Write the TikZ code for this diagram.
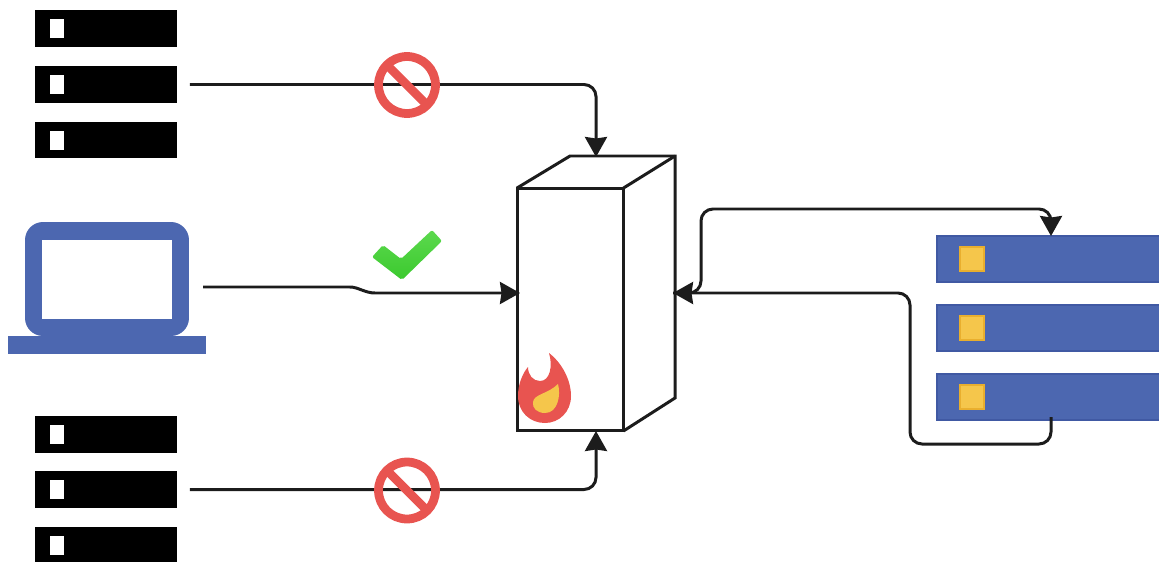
\documentclass[tikz,border=0pt]{standalone}
\usetikzlibrary{arrows.meta}
\definecolor{blueA}{HTML}{4C67B0}
\definecolor{blueB}{HTML}{4059A3}
\definecolor{yellowA}{HTML}{F5C64B}
\definecolor{yellowB}{HTML}{E9AF2E}
\definecolor{redA}{HTML}{E85450}
\definecolor{inkA}{HTML}{1C1C1C}
\definecolor{greenA}{HTML}{5CD94E}
\definecolor{greenB}{HTML}{3BC92E}
\tikzset{
	rackbox/.style={fill=black, minimum width=2.84cm, minimum height=0.74cm, inner sep=0, outer sep=0},
	rackslot/.style={fill=white, minimum width=0.3cm, minimum height=0.38cm, inner sep=0, outer sep=0},
	barbox/.style={fill=blueA, draw=blueB, line width=1pt, minimum width=5.4cm, minimum height=0.92cm, inner sep=0, outer sep=0},
	barchip/.style={fill=yellowA, draw=yellowB, line width=1.2pt, minimum size=0.48cm, inner sep=0, outer sep=0},
	wall/.style={draw=inkA, line width=1.7pt, line join=miter},
	link/.style={draw=inkA, line width=1.7pt, rounded corners=0.24cm, -{Stealth[length=0.4cm, width=0.44cm, inset=0.03cm]}},
	nosign/.style={circle, draw=redA, line width=5pt, minimum size=1.14cm, inner sep=0, outer sep=0}
}
\begin{document}
\begin{tikzpicture}[x=0.02cm, y=-0.02cm]
	\clip[use as bounding box] (0,0) rectangle (1159,561);

	\node (r1) [rackbox] at (106,28.5) {};
	\node (r2) [rackbox] at (106,84.5) {};
	\node (r3) [rackbox] at (106,140) {};
	\node (r4) [rackbox] at (106,434) {};
	\node (r5) [rackbox] at (106,489.5) {};
	\node (r6) [rackbox] at (106,545.5) {};
	\node (s1) [rackslot] at (57,28.5) {};
	\node (s2) [rackslot] at (57,84.5) {};
	\node (s3) [rackslot] at (57,140) {};
	\node (s4) [rackslot] at (57,434) {};
	\node (s5) [rackslot] at (57,489.5) {};
	\node (s6) [rackslot] at (57,545.5) {};

	\node (lap) [fill=blueA, rounded corners=0.36cm, minimum width=3.28cm, minimum height=2.28cm, inner sep=0, outer sep=0] at (107,279) {};
	\node (lapscreen) [fill=white, minimum width=2.6cm, minimum height=1.58cm, inner sep=0, outer sep=0] at (107,279.5) {};
	\node (lapbase) [fill=blueA, minimum width=3.96cm, minimum height=0.36cm, inner sep=0, outer sep=0] at (107,345) {};

	\node (fw) [wall, minimum width=2.13cm, minimum height=4.86cm, inner sep=0, outer sep=0] at (570.25,309.5) {};
	\draw [wall] (fw.north west) -- (570,156) -- (675,156) -- (675,398) -- (fw.south east);
	\draw [wall] (fw.north east) -- (675,156);

	\node (b1) [barbox] at (1072,259) {};
	\node (b2) [barbox] at (1072,328) {};
	\node (b3) [barbox] at (1072,397) {};
	\node (c1) [barchip] at (972,259) {};
	\node (c2) [barchip] at (972,328) {};
	\node (c3) [barchip] at (972,397) {};

	\coordinate (fwtop) at (596,157);
	\coordinate (fwbot) at (596,431);
	\coordinate (fwleft) at (520,293);
	\coordinate (fwright) at (673,293);
	\coordinate (lapout) at (203,287);
	\coordinate (bartop) at (1051,236);
	\coordinate (barlow) at (1051,417);

	\draw [link, shorten <=0.26cm] (r2.east) -| (fwtop);
	\draw [link, shorten <=0.26cm] (r5.east) -| (fwbot);
	\draw [link, sharp corners] (lapout) -- (350,287) .. controls (358,287) and (365,293) .. (375,293) -- (fwleft);
	\draw [link] (fwright) -- (701,293) -- (701,209) -- (1051,209) -- (bartop);
	\draw [link] (barlow) -- (1051,444) -- (910,444) -- (910,293) -- (fwright);

	\node (no1) [nosign] at (407,85) {};
	\draw [draw=redA, line width=5pt] (no1.135) -- (no1.-45);
	\node (no2) [nosign] at (407,490.5) {};
	\draw [draw=redA, line width=5pt] (no2.135) -- (no2.-45);

	\shade [top color=greenA, bottom color=greenB, rounded corners=0.04cm] (383,245) -- (401,259) -- (432,230) -- (442,241) -- (402,280) -- (372,257) -- cycle;

	\fill [redA] (549,353) .. controls (562,363) and (571,380) .. (571,396) .. controls (571,412) and (559,423) .. (545,423) .. controls (530,423) and (518,412) .. (518,396) .. controls (518,385) and (522,374) .. (528,367) .. controls (528,375) and (533,381) .. (540,381) .. controls (550,381) and (553,366) .. (549,353) -- cycle;
	\fill [yellowA] (558,384) .. controls (561,395) and (558,413) .. (545,413) .. controls (537,413) and (532,408) .. (533,402) .. controls (534,394) and (548,394) .. (558,384) -- cycle;
\end{tikzpicture}
\end{document}
